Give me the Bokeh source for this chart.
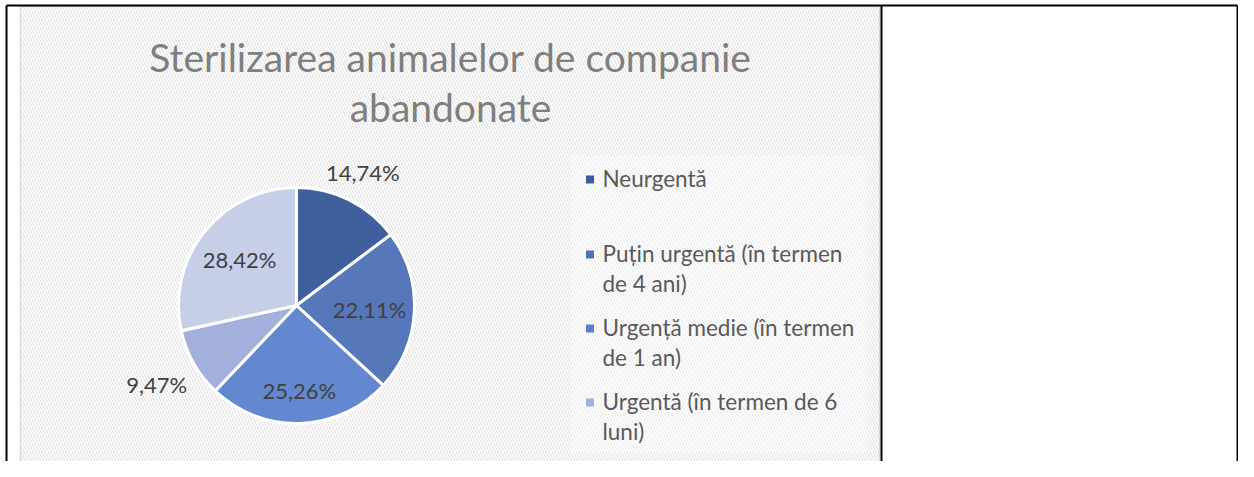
import math
from bokeh.plotting import figure
from bokeh.models import Range1d, ColumnDataSource
from bokeh.core.properties import value
from bokeh.embed import file_html
from bokeh.resources import INLINE

# ---- data ----
title_lines = ["Sterilizarea animalelor de companie", "abandonate"]
shares = [14.74, 22.11, 25.26, 9.47, 28.42]
share_labels = ["14,74%", "22,11%", "25,26%", "9,47%", "28,42%"]
legend_labels = ["Neurgentă", "Puțin urgentă (în termen\nde 4 ani)",
                 "Urgență medie (în termen\nde 1 an)", "Urgentă (în termen de 6\nluni)"]

# ---- style ----
slice_colors = ["#3F609D", "#5777BB", "#6388CF", "#A3B0DB", "#C7CEE7"]
legend_colors = ["#3D5C9B", "#4E71B8", "#5A80CB", "#A3B1DD"]
label_radius = [1.26, 0.62, 0.72, 1.36, 0.62]
FONT = "Lato"

W, H = 1238, 461
def Y(py):
    return 477 - py

p = figure(width=W, height=H, output_backend="svg", toolbar_location=None,
           x_range=Range1d(0, W), y_range=Range1d(477 - H, 477),
           min_border=0, outline_line_color=None)
p.axis.visible = False
p.grid.visible = False
p.background_fill_color = "white"
p.border_fill_color = "white"

# chart area with diagonal hatch
p.quad(left=20, right=879, top=Y(6), bottom=Y(474), fill_color="white",
       hatch_pattern="left_diagonal_line", hatch_color="#E2E2E2",
       hatch_scale=6, hatch_weight=1.2, line_color="#D9D9D9", line_width=1.5)

# legend box (semi-transparent)
p.quad(left=570, right=866, top=Y(155), bottom=Y(452), fill_color="white",
       fill_alpha=0.35, line_color=None)

# frame lines of the surrounding table
p.segment(x0=[6, 6, 881, 1237], y0=[Y(5), Y(5), Y(5), Y(5)],
          x1=[1237, 6, 881, 1237], y1=[Y(5), Y(477), Y(477), Y(477)],
          line_color="black", line_width=2)

# pie
cx, cy, r = 296, Y(305), 118
total = sum(shares)
starts, ends, mids = [], [], []
acc = 0.0
for v in shares:
    a0 = math.pi / 2 - 2 * math.pi * acc / total
    acc += v
    a1 = math.pi / 2 - 2 * math.pi * acc / total
    starts.append(a0)
    ends.append(a1)
    mids.append((a0 + a1) / 2)

src = ColumnDataSource(dict(start=starts, end=ends, color=slice_colors))
p.wedge(x=cx, y=cy, radius=r, start_angle="start", end_angle="end",
        direction="clock", fill_color="color", line_color="white",
        line_width=3, source=src)

lx = [cx + k * r * math.cos(m) for k, m in zip(label_radius, mids)]
ly = [cy + k * r * math.sin(m) for k, m in zip(label_radius, mids)]
p.text(x=lx, y=ly, text=share_labels, text_font=value(FONT),
       text_font_size="22px", text_color="#404040",
       text_align="center", text_baseline="middle")

# title
p.text(x=[450, 450], y=[Y(56), Y(106)], text=title_lines,
       text_font=value(FONT), text_font_size="39px", text_color="#7F7F7F",
       text_align="center", text_baseline="middle")

# legend
entry_tops = [164, 239, 313, 387]
p.scatter(x=[589.5] * 4, y=[Y(t + 15) for t in entry_tops], marker="square",
          size=8, fill_color=legend_colors, line_color=None)
p.text(x=[602] * 4, y=[Y(t) for t in entry_tops], text=legend_labels,
       text_font=value(FONT), text_font_size="22.5px", text_color="#595959",
       text_align="left", text_baseline="top", text_line_height=1.12)

open("out.html", "w").write(file_html(p, INLINE))
